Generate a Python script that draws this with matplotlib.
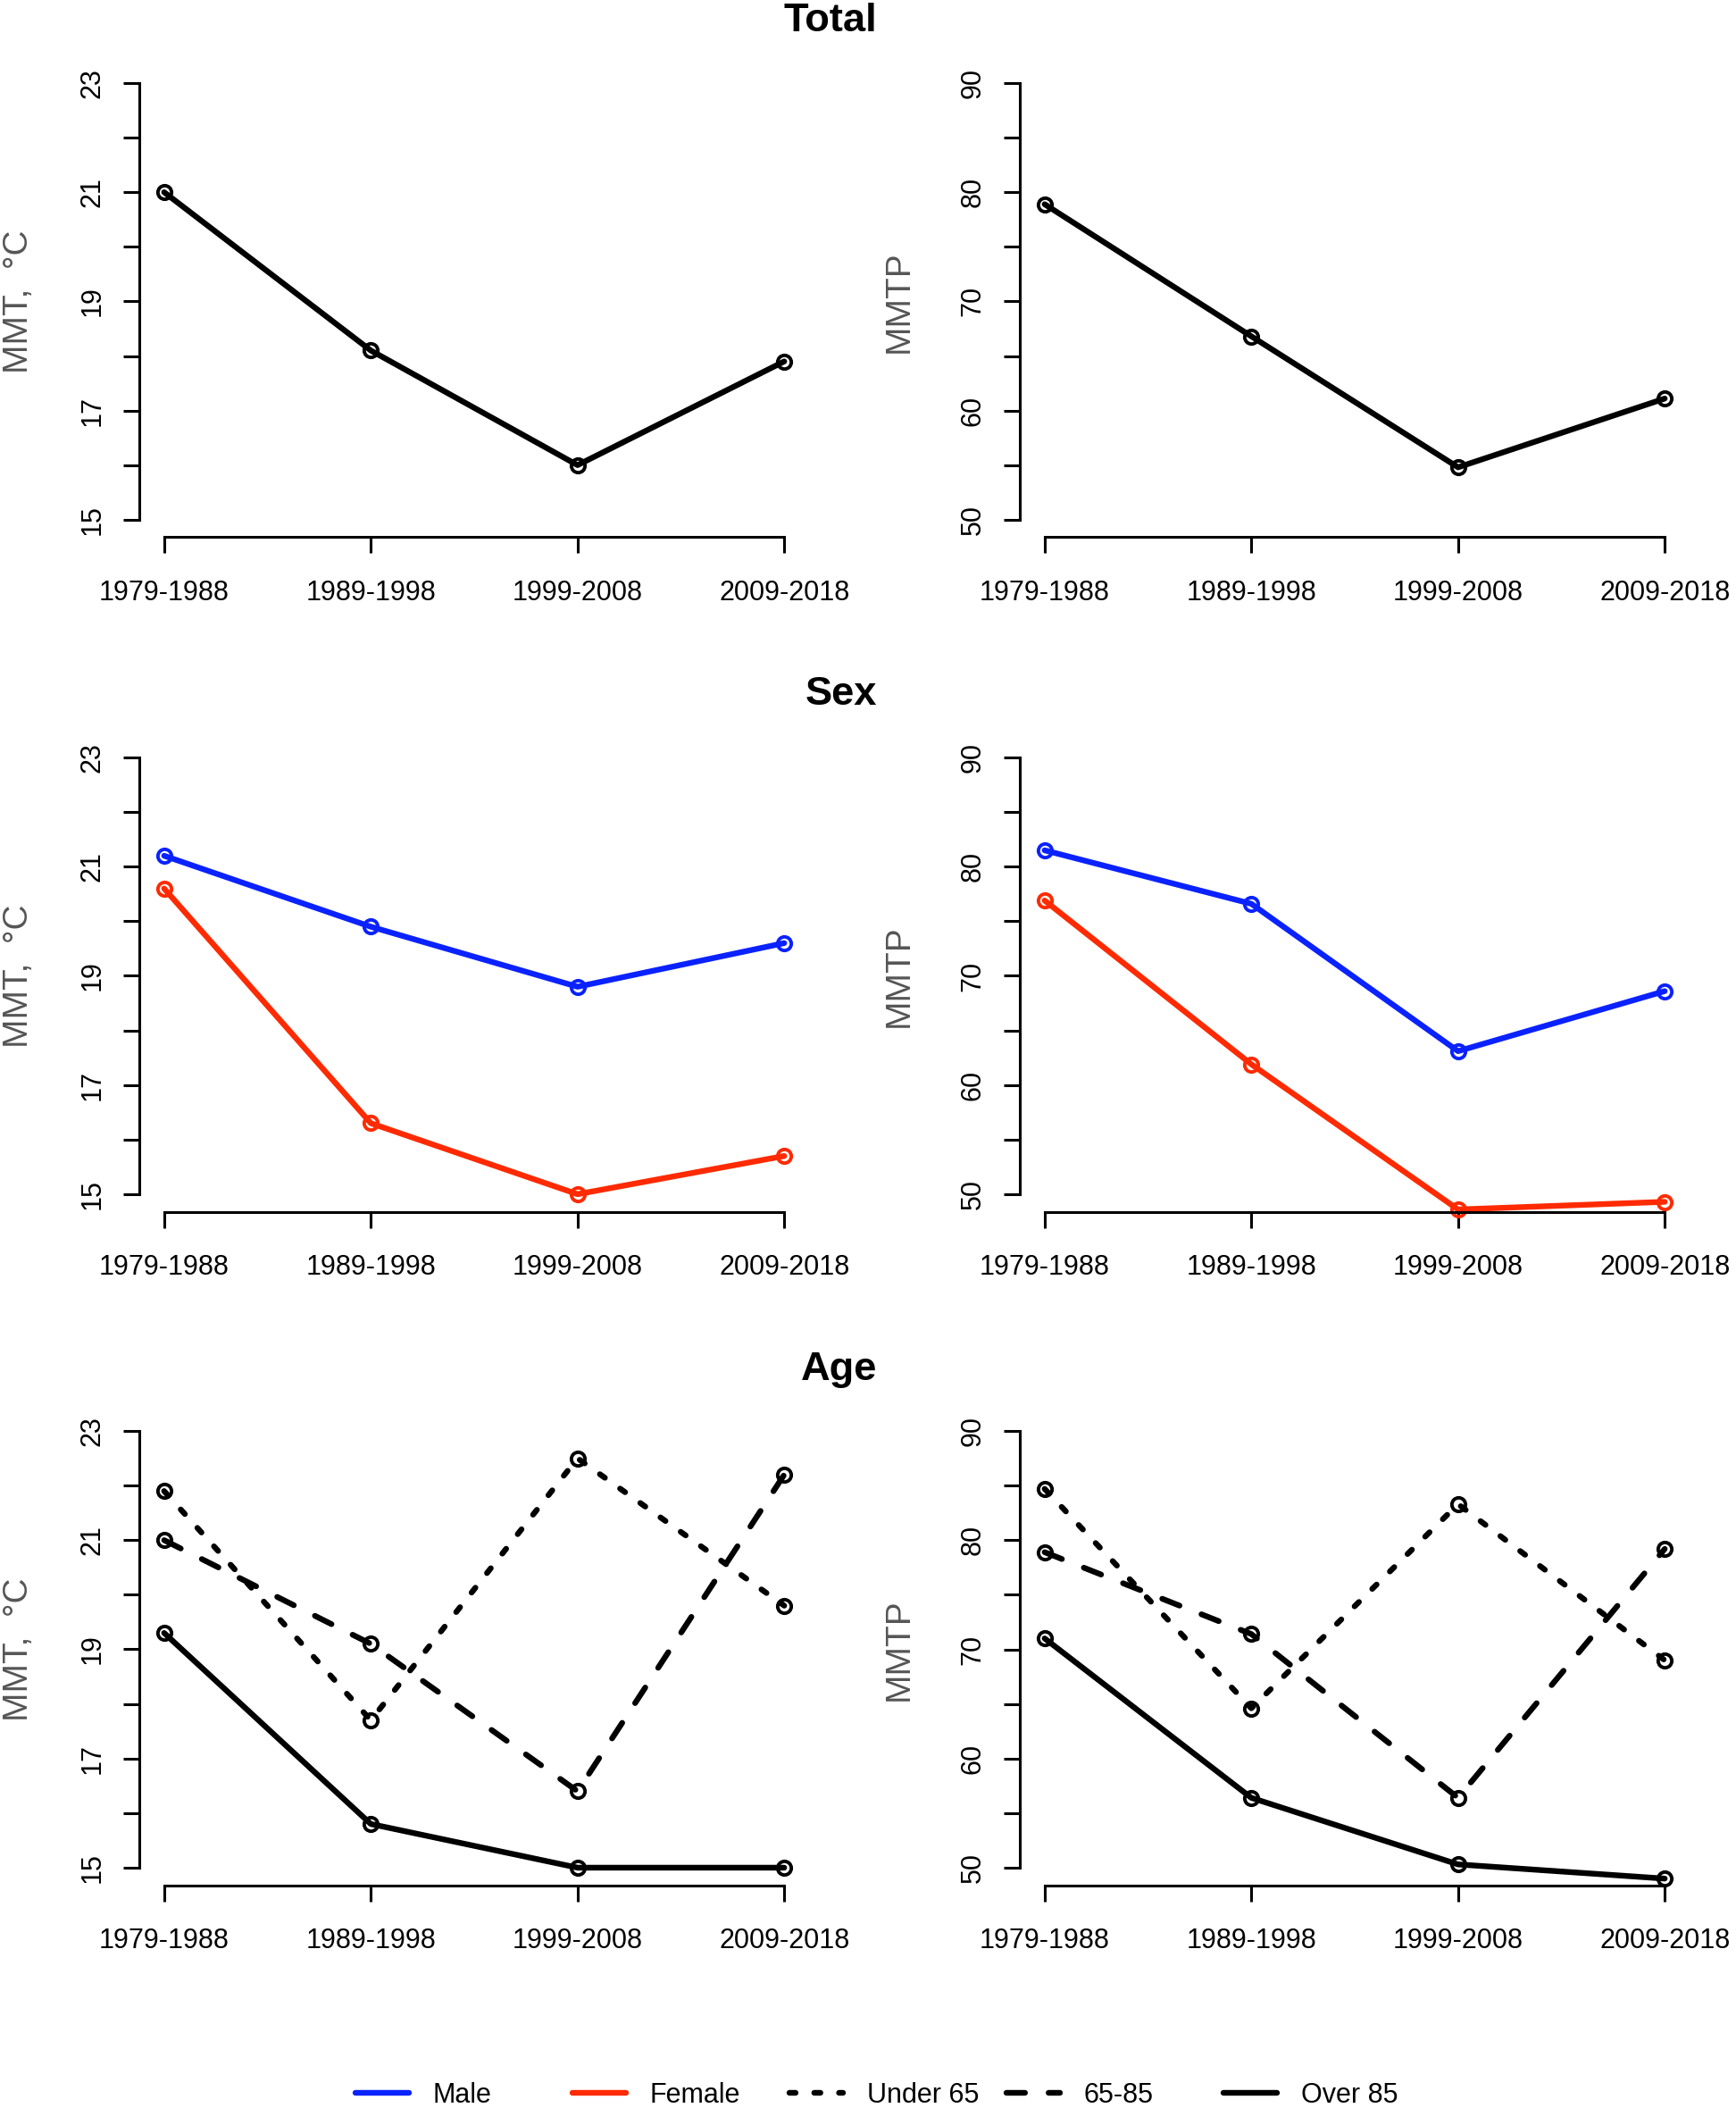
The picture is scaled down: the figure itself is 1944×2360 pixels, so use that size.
import matplotlib
matplotlib.use("Agg")
import matplotlib.pyplot as plt
from matplotlib.lines import Line2D
import numpy as np

plt.rcParams['font.family'] = ['Liberation Sans', 'DejaVu Sans']
plt.rcParams['lines.scale_dashes'] = False

periods = ['1979-1988', '1989-1998', '1999-2008', '2009-2018']

total_mmt = [21.0, 18.1, 16.0, 17.9]
total_mmtp = [78.9, 66.8, 54.8, 61.1]

male_mmt = [21.2, 19.9, 18.8, 19.6]
female_mmt = [20.6, 16.3, 15.0, 15.7]
male_mmtp = [81.5, 76.6, 63.1, 68.6]
female_mmtp = [76.9, 61.9, 48.6, 49.3]

under65_mmt = [21.9, 17.7, 22.5, 19.8]
age65_85_mmt = [21.0, 19.1, 16.4, 22.2]
over85_mmt = [19.3, 15.8, 15.0, 15.0]
under65_mmtp = [84.7, 64.6, 83.3, 69.0]
age65_85_mmtp = [78.9, 71.4, 56.4, 79.2]
over85_mmtp = [71.0, 56.4, 50.3, 49.0]

row_titles = ['Total', 'Sex', 'Age']

BLUE = '#0a22ff'
RED = '#ff2a00'
DOTTED = (0, (2.5, 7.5))
DASHED = (0, (7.5, 9.5))
LW = 2.3

W, H, DPI = 1944, 2360, 200
fig = plt.figure(figsize=(W / DPI, H / DPI), dpi=DPI)

# pixel layout (R style plot regions)
col_left = [156, 1142]
ax_w = 750
row_top = [73.4, 828.5, 1582.5]
ax_h = 528
title_base = [35, 789, 1545]


def style_axis(ax, kind):
    x = np.arange(1, 5)
    ax.set_xlim(0.88, 4.12)
    if kind == 'mmt':
        ax.set_ylim(14.68, 23.32)
        ticks = np.arange(15, 24)
        labels = [str(t) if t % 2 == 1 else '' for t in ticks]
        lo, hi = 15, 23
        ylab = 'MMT,  °C'
    else:
        ax.set_ylim(48.4, 91.6)
        ticks = np.arange(50, 95, 5)
        labels = [str(t) if t % 10 == 0 else '' for t in ticks]
        lo, hi = 50, 90
        ylab = 'MMTP'
    ax.set_yticks(ticks)
    ax.set_yticklabels(labels)
    ax.set_xticks(x)
    ax.set_xticklabels(periods)
    for s in ['top', 'right']:
        ax.spines[s].set_visible(False)
    ax.spines['left'].set_bounds(lo, hi)
    ax.spines['bottom'].set_bounds(1, 4)
    for s in ['left', 'bottom']:
        ax.spines[s].set_linewidth(1.1)
    ax.tick_params(axis='both', length=6.5, width=1.1, labelsize=11, pad=7)
    ax.tick_params(axis='x', pad=10.5)
    ax.tick_params(axis='y', labelrotation=90)
    for lbl in ax.get_yticklabels():
        lbl.set_va('center')
    ax.set_ylabel(ylab, fontsize=14, color='#555555', va='center')
    ax.yaxis.set_label_coords(-0.18, 0.5)


def draw(ax, values, color='black', ls='-'):
    x = np.arange(1, len(values) + 1)
    ax.plot(x, values, color=color, linestyle=ls, linewidth=LW,
            marker='o', markersize=5.5, markeredgewidth=1.4,
            markerfacecolor='none', markeredgecolor=color,
            dash_capstyle='round', solid_capstyle='round', clip_on=False)


axes = []
for r in range(3):
    row = []
    for c in range(2):
        rect = [col_left[c] / W, 1 - (row_top[r] + ax_h) / H, ax_w / W, ax_h / H]
        ax = fig.add_axes(rect)
        style_axis(ax, 'mmt' if c == 0 else 'mmtp')
        row.append(ax)
    axes.append(row)
    fig.text(982 / W, 1 - title_base[r] / H, row_titles[r], ha='right',
             va='baseline', fontsize=16.3, fontweight='bold')

draw(axes[0][0], total_mmt)
draw(axes[0][1], total_mmtp)

draw(axes[1][0], male_mmt, BLUE)
draw(axes[1][0], female_mmt, RED)
draw(axes[1][1], male_mmtp, BLUE)
draw(axes[1][1], female_mmtp, RED)

draw(axes[2][0], under65_mmt, ls=DOTTED)
draw(axes[2][0], age65_85_mmt, ls=DASHED)
draw(axes[2][0], over85_mmt)
draw(axes[2][1], under65_mmtp, ls=DOTTED)
draw(axes[2][1], age65_85_mmtp, ls=DASHED)
draw(axes[2][1], over85_mmtp)

# legend along the bottom, equally spaced entries
leg_items = [('Male', BLUE, '-'), ('Female', RED, '-'), ('Under 65', 'black', DOTTED),
             ('65-85', 'black', DASHED), ('Over 85', 'black', '-')]
for i, (name, col, ls) in enumerate(leg_items):
    h = Line2D([], [], color=col, linestyle=ls, linewidth=LW,
               dash_capstyle='round', solid_capstyle='round')
    fig.legend(handles=[h], labels=[name], loc='center left',
               bbox_to_anchor=((398 + i * 243) / W, 1 - 2346 / H),
               frameon=False, fontsize=11, borderpad=0, borderaxespad=0,
               handlelength=1.96, handletextpad=0.88)

fig.savefig('out.png', dpi=DPI)
